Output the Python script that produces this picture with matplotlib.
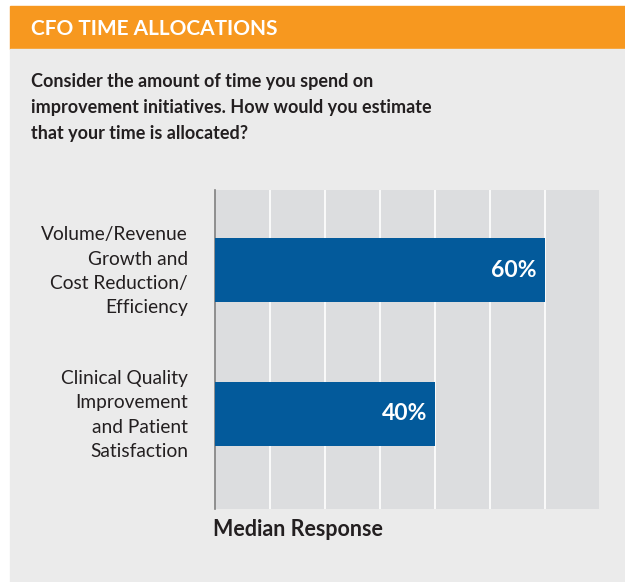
import numpy as np
import matplotlib.pyplot as plt
import matplotlib.transforms as mtransforms
from matplotlib.patches import Rectangle

plt.rcParams['font.family'] = ['Lato', 'DejaVu Sans']

# data
categories = ["Volume/Revenue\nGrowth and\nCost Reduction/\nEfficiency",
              "Clinical Quality\nImprovement\nand Patient\nSatisfaction"]
values = [60, 40]
title = "CFO TIME ALLOCATIONS"
question = ["Consider the amount of time you spend on",
            "improvement initiatives. How would you estimate",
            "that your time is allocated?"]
xlabel = "Median Response"

W, H = 625, 582
ORANGE = "#f7981f"
BLUE = "#035a9b"
BG = "#ebebeb"
PANEL = "#dcdddf"

def fx(px):
    return px / W

def fy(py):
    return 1 - py / H

fig = plt.figure(figsize=(W / 100, H / 100), dpi=100)
fig.patch.set_facecolor("white")

# header strip + grey card
fig.patches.append(Rectangle((fx(10), fy(49)), 1 - fx(10), fy(6) - fy(49),
                             transform=fig.transFigure, color=ORANGE, zorder=-10))
fig.patches.append(Rectangle((fx(10), 0), 1 - fx(10), fy(49),
                             transform=fig.transFigure, color=BG, zorder=-10))

fig.text(fx(31), fy(35), title, color="white", fontsize=15, fontweight="bold",
         va="baseline", ha="left")
for i, line in enumerate(question):
    fig.text(fx(31), fy(87 + 26 * i), line, color="#231f20", fontsize=13,
             fontweight="bold", va="baseline", ha="left")

ax = fig.add_axes([fx(215), fy(509), fx(598.7) - fx(215), fy(190) - fy(509)])
ax.set_facecolor(PANEL)

ypos = np.arange(len(values))[::-1]
ax.barh(ypos, values, height=0.444, color=BLUE, zorder=3)
for y, v in zip(ypos, values):
    ax.annotate(f"{v}%", (v, y), xytext=(-6, 0), textcoords="offset points",
                ha="right", va="center", color="white", fontsize=16.5,
                fontweight="bold", zorder=4)

ax.set_xlim(0, 69.7)
ax.set_ylim(-0.66, 1.556)
ax.set_xticks(np.arange(10, 70, 10))
ax.xaxis.grid(True, color="white", linewidth=1.2, zorder=1)
ax.set_axisbelow(True)
ax.tick_params(axis="x", length=0, labelbottom=False)
ax.set_yticks(ypos)
ax.set_yticklabels(categories, fontsize=13.8, color="#231f20", linespacing=1.53)
ax.tick_params(axis="y", length=0, pad=19.5)
shift = mtransforms.ScaledTranslation(0, 4 / 100, fig.dpi_scale_trans)
for lab in ax.get_yticklabels():
    lab.set_horizontalalignment("right")
    lab.set_transform(lab.get_transform() + shift)
for side in ["top", "right", "bottom"]:
    ax.spines[side].set_visible(False)
ax.spines["left"].set_color("#808080")
ax.spines["left"].set_linewidth(1.2)

fig.text(fx(213), fy(529), xlabel, color="#231f20", fontsize=15.5,
         fontweight="bold", va="center", ha="left")

fig.savefig("out.png", dpi=100, facecolor=fig.get_facecolor())
